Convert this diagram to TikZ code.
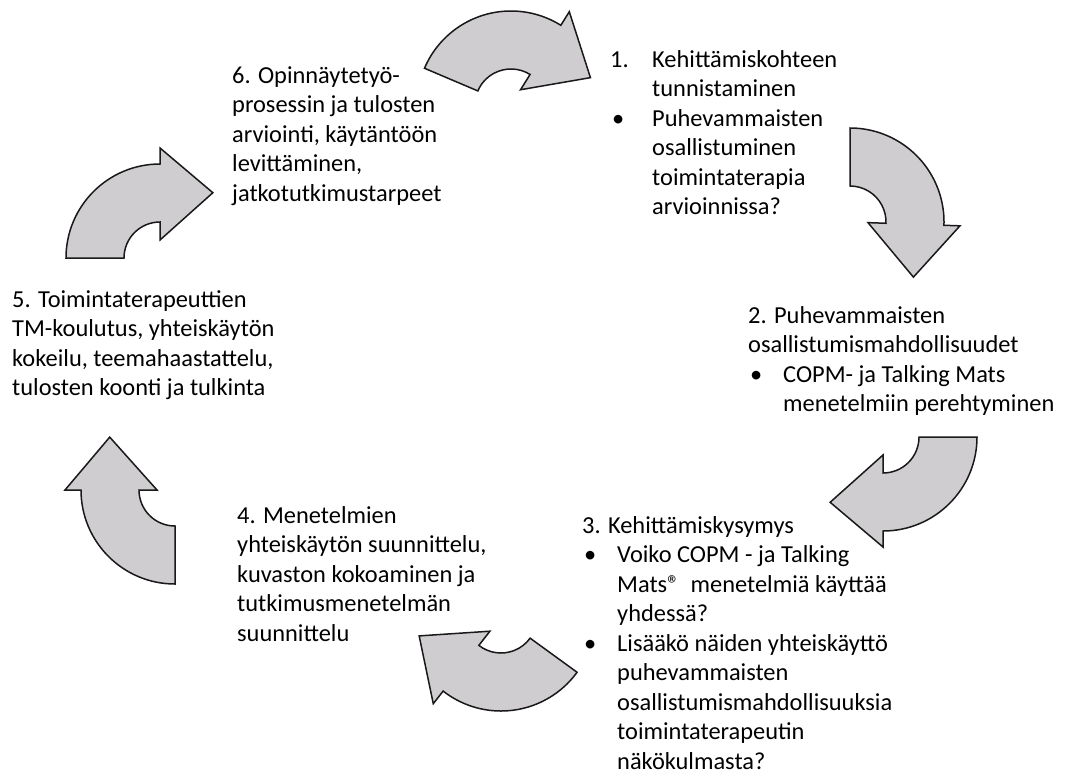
\documentclass[tikz,border=0pt]{standalone}
\usepackage{fontspec}
\setmainfont{Carlito}
\usetikzlibrary{positioning}
\definecolor{arrowGrey}{RGB}{207,205,208}
% curved block arrow: centre, start angle, head angle
\newcommand{\ringarrow}[3]{%
  \begin{scope}[shift={(#1)}]
    \draw[ringarrow] (#2:94) arc[start angle=#2, end angle=#3, radius=94]
      -- (#3:110) -- (#3+39:84) -- (#3:18) -- (#3:36)
      arc[start angle=#3, end angle=#2, radius=36] -- cycle;
  \end{scope}}

\begin{document}
\begin{tikzpicture}[x=1pt, y=-1pt,
    ringarrow/.style={draw=black!90, line width=1.5pt, fill=arrowGrey, line join=miter},
    phase/.style={anchor=base west, inner sep=0pt, font=\fontsize{24.4}{29.5}\selectfont}]
  \useasboundingbox (0,0) rectangle (1067,776);
  % Cycle arrows
  \ringarrow{511,105}{-157}{-58}
  \ringarrow{850,222}{-90}{2}
  \ringarrow{883,437}{0}{90}
  \ringarrow{501,617}{36}{128}
  \ringarrow{175,490}{90}{180}
  \ringarrow{160,258}{180}{270}
  % Phases
  \node[phase] (phase1) at (610,67) {\begin{tabular}[t]{@{}p{42pt}@{}l@{}}
      1. & Kehittämiskohteen\\
         & tunnistaminen\\
      \hspace{2pt}\textbullet & Puhevammaisten\\
         & osallistuminen\\
         & toimintaterapia\\
         & arvioinnissa?
    \end{tabular}};
  \node[phase] (phase2) at (748,323) {\begin{tabular}[t]{@{}p{35pt}@{}l@{}}
      \multicolumn{2}{@{}l@{}}{2. Puhevammaisten}\\
      \multicolumn{2}{@{}l@{}}{osallistumismahdollisuudet}\\
      \hspace{2pt}\textbullet & COPM- ja Talking Mats\\
         & menetelmiin perehtyminen
    \end{tabular}};
  \node[phase] (phase3) at (582,533) {\begin{tabular}[t]{@{}p{35pt}@{}l@{}}
      \multicolumn{2}{@{}l@{}}{3. Kehittämiskysymys}\\
      \hspace{2pt}\textbullet & Voiko COPM - ja Talking\\
         & Mats®\ \ menetelmiä käyttää\\
         & yhdessä?\\
      \hspace{2pt}\textbullet & Lisääkö näiden yhteiskäyttö\\
         & puhevammaisten\\
         & osallistumismahdollisuuksia\\
         & toimintaterapeutin\\
         & näkökulmasta?
    \end{tabular}};
  \node[phase] (phase4) at (237,523) {\begin{tabular}[t]{@{}l@{}}
      4. Menetelmien\\
      yhteiskäytön suunnittelu,\\
      kuvaston kokoaminen ja\\
      tutkimusmenetelmän\\
      suunnittelu
    \end{tabular}};
  \node[phase] (phase5) at (12,307) {\begin{tabular}[t]{@{}l@{}}
      5. Toimintaterapeuttien\\
      TM-koulutus, yhteiskäytön\\
      kokeilu, teemahaastattelu,\\
      tulosten koonti ja tulkinta
    \end{tabular}};
  \node[phase] (phase6) at (232,83) {\begin{tabular}[t]{@{}l@{}}
      6. Opinnäytetyö-\\
      prosessin ja tulosten\\
      arviointi, käytäntöön\\
      levittäminen,\\
      jatkotutkimustarpeet
    \end{tabular}};
\end{tikzpicture}
\end{document}
